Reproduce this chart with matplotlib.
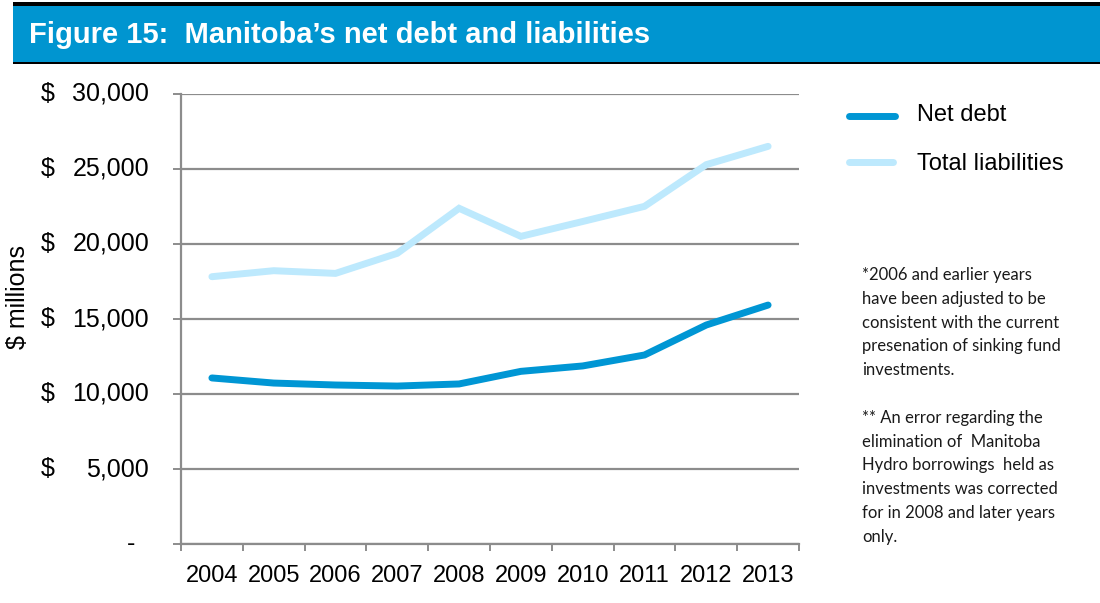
import numpy as np
import matplotlib.pyplot as plt
from matplotlib.patches import Rectangle
from matplotlib.lines import Line2D
import matplotlib.transforms as mtransforms

plt.rcParams['font.family'] = ['Liberation Sans', 'DejaVu Sans']

years = ['2004', '2005', '2006', '2007', '2008', '2009', '2010', '2011', '2012', '2013']
net_debt = [11070, 10730, 10600, 10530, 10670, 11510, 11870, 12600, 14600, 15930]
total_liab = [17820, 18220, 18040, 19380, 22380, 20510, 21500, 22510, 25290, 26510]
yticks = [0, 5000, 10000, 15000, 20000, 25000, 30000]

note = ("*2006 and earlier years\n"
        "have been adjusted to be\n"
        "consistent with the current\n"
        "presenation of sinking fund\n"
        "investments.\n"
        "\n"
        "** An error regarding the\n"
        "elimination of  Manitoba\n"
        "Hydro borrowings  held as\n"
        "investments was corrected\n"
        "for in 2008 and later years\n"
        "only.")

dark_blue = '#0096d4'
light_blue = '#bde9fd'
grid_grey = '#8c8c8c'

W, H = 1100, 603
fig = plt.figure(figsize=(W / 100, H / 100), dpi=100)

# title banner
fig.patches.append(Rectangle((13 / W, 1 - 6 / H), 1 - 13 / W, 4 / H, transform=fig.transFigure,
                             facecolor='black', edgecolor='none'))
fig.patches.append(Rectangle((13 / W, 1 - 62 / H), 1 - 13 / W, 56 / H, transform=fig.transFigure,
                             facecolor='#0095d0', edgecolor='none'))
fig.patches.append(Rectangle((13 / W, 1 - 64 / H), 1 - 13 / W, 2 / H, transform=fig.transFigure,
                             facecolor='black', edgecolor='none'))
fig.text(29 / W, 1 - 35 / H, "Figure 15:  Manitoba\u2019s net debt and liabilities",
         color='white', fontsize=21, fontweight='bold', va='center', ha='left')

ax = fig.add_axes([181 / W, 1 - 544 / H, 618 / W, 450 / H])
x = np.arange(len(years))
ax.plot(x, total_liab, color=light_blue, lw=5, solid_capstyle='round', solid_joinstyle='miter')
ax.plot(x, net_debt, color=dark_blue, lw=5, solid_capstyle='round', solid_joinstyle='miter')

ax.set_xlim(-0.5, len(years) - 0.5)
ax.set_ylim(0, 30000)

ax.set_yticks(yticks)
ax.set_yticklabels([])
ax.yaxis.grid(True, color=grid_grey, lw=1.6)
ax.set_axisbelow(True)
ax.tick_params(axis='y', length=6, width=1.4, color=grid_grey)

ax.set_xticks(x)
ax.set_xticklabels(years, fontsize=17)
ax.set_xticks(np.arange(-0.5, len(years)), minor=True)
ax.tick_params(axis='x', which='major', length=0, pad=15)
ax.tick_params(axis='x', which='minor', length=5, width=1.4, color=grid_grey)

for side in ['top', 'right']:
    ax.spines[side].set_visible(False)
for side in ['left', 'bottom']:
    ax.spines[side].set_color(grid_grey)
    ax.spines[side].set_linewidth(1.6)

# accounting-style y labels: dollar sign on the left, number right aligned
trans = mtransforms.blended_transform_factory(fig.transFigure, ax.transData)
for v in yticks:
    if v == 0:
        fig.text(135 / W, 0, '-', transform=trans, fontsize=18, ha='right', va='center')
        continue
    fig.text(41 / W, v, '$', transform=trans, fontsize=18, ha='left', va='center')
    fig.text(149 / W, v, f'{v:,}', transform=trans, fontsize=18, ha='right', va='center')

fig.text(18 / W, 1 - 297 / H, '$ millions', rotation=90, fontsize=18, ha='center', va='center')

# legend
fig.add_artist(Line2D([849 / W, 895 / W], [1 - 116 / H] * 2, color=dark_blue, lw=5,
                      solid_capstyle='round', transform=fig.transFigure))
fig.text(917 / W, 1 - 115 / H, 'Net debt', fontsize=17, va='center')
fig.add_artist(Line2D([849 / W, 893 / W], [1 - 162 / H] * 2, color=light_blue, lw=5,
                      solid_capstyle='round', transform=fig.transFigure))
fig.text(917 / W, 1 - 164 / H, 'Total liabilities', fontsize=17, va='center')

fig.text(862 / W, 1 - 267 / H, note, fontsize=12, family=['Lato', 'DejaVu Sans'],
         va='top', ha='left', linespacing=1.6, color='#1a1a1a')

fig.savefig('out.png', dpi=100)
